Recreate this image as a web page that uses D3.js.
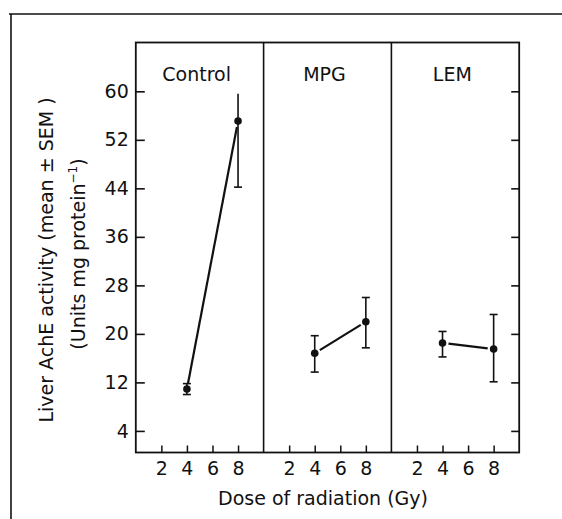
<!DOCTYPE html>
<html>
<head>
<meta charset="utf-8">
<script src="https://cdn.jsdelivr.net/npm/d3@7"></script>
<style>
  html, body { margin: 0; padding: 0; background: #fff; }
  svg text { font-family: "DejaVu Sans", sans-serif; fill: #111; }
</style>
</head>
<body>
<svg id="chart" width="562" height="519"></svg>
<script>
// ---- data ----
const panels = ["Control", "MPG", "LEM"];
const doses = [4, 8];
const xTicks = [2, 4, 6, 8];
const yTicks = [4, 12, 20, 28, 36, 44, 52, 60];

const controlMean = [10.9, 55.1];
const controlLow  = [10.0, 44.2];
const controlHigh = [11.8, 59.6];

const mpgMean = [16.8, 22.0];
const mpgLow  = [13.7, 17.7];
const mpgHigh = [19.7, 26.0];

const lemMean = [18.5, 17.5];
const lemLow  = [16.2, 12.1];
const lemHigh = [20.4, 23.2];

const seriesMean = [controlMean, mpgMean, lemMean];
const seriesLow  = [controlLow, mpgLow, lemLow];
const seriesHigh = [controlHigh, mpgHigh, lemHigh];

// ---- layout ----
const svg = d3.select("#chart");
const pLeft = 135.8, pRight = 519.2, pTop = 42.5, pBottom = 452.5;

const y = d3.scaleLinear().domain([0.44, 68.05]).range([pBottom, pTop]);
const panelScale = d3.scaleBand().domain(panels).range([pLeft, pRight]).padding(0);

// outer journal frame (top & left)
svg.append("line").attr("x1", 9).attr("x2", 562).attr("y1", 14).attr("y2", 14)
  .attr("stroke", "#111").attr("stroke-width", 1.6);
svg.append("line").attr("x1", 11).attr("x2", 11).attr("y1", 14).attr("y2", 519)
  .attr("stroke", "#111").attr("stroke-width", 1.6);

// plot box
svg.append("rect").attr("x", pLeft).attr("y", pTop)
  .attr("width", pRight - pLeft).attr("height", pBottom - pTop)
  .attr("fill", "none").attr("stroke", "#111").attr("stroke-width", 1.8);

// left axis (ticks inward)
const yAxisL = d3.axisLeft(y).tickValues(yTicks).tickSizeInner(-9).tickSizeOuter(0).tickPadding(7);
const gL = svg.append("g").attr("transform", `translate(${pLeft},0)`).call(yAxisL);
gL.select(".domain").remove();
gL.selectAll(".tick line").attr("stroke", "#111").attr("stroke-width", 1.6);
gL.selectAll(".tick text").attr("font-size", 19).attr("font-family", "DejaVu Sans").attr("fill", "#111");

// right axis (ticks inward, no labels)
const yAxisR = d3.axisRight(y).tickValues(yTicks).tickSizeInner(-8).tickSizeOuter(0).tickFormat("");
const gR = svg.append("g").attr("transform", `translate(${pRight},0)`).call(yAxisR);
gR.select(".domain").remove();
gR.selectAll(".tick line").attr("stroke", "#111").attr("stroke-width", 1.6);

const line = d3.line();

panels.forEach((name, i) => {
  const x0 = panelScale(name);
  const x = d3.scaleLinear().domain([0, 10]).range([x0, x0 + panelScale.bandwidth()]);

  // divider
  if (i > 0) {
    svg.append("line").attr("x1", x0).attr("x2", x0).attr("y1", pTop).attr("y2", pBottom)
      .attr("stroke", "#111").attr("stroke-width", 1.6);
  }

  // bottom axis, inward ticks
  const xAxis = d3.axisBottom(x).tickValues(xTicks).tickSizeInner(-7).tickSizeOuter(0).tickPadding(9);
  const gx = svg.append("g").attr("transform", `translate(0,${pBottom})`).call(xAxis);
  gx.select(".domain").remove();
  gx.selectAll(".tick line").attr("stroke", "#111").attr("stroke-width", 1.5);
  gx.selectAll(".tick text").attr("font-size", 19).attr("font-family", "DejaVu Sans").attr("fill", "#111");

  // panel label
  svg.append("text").attr("x", x(5) - 3).attr("y", 81).attr("text-anchor", "middle")
    .attr("font-size", 19).text(name);

  const mean = seriesMean[i], lo = seriesLow[i], hi = seriesHigh[i];
  const pts = doses.map((d, j) => [x(d), y(mean[j])]);

  // connecting line, trimmed near markers
  const [p0, p1] = pts;
  const dx = p1[0] - p0[0], dy = p1[1] - p0[1], len = Math.hypot(dx, dy);
  const gap = 6;
  const a = [p0[0] + dx / len * gap, p0[1] + dy / len * gap];
  const b = [p1[0] - dx / len * gap, p1[1] - dy / len * gap];
  svg.append("path").attr("d", line([a, b])).attr("fill", "none")
    .attr("stroke", "#111").attr("stroke-width", 2.2);

  // error bars
  doses.forEach((d, j) => {
    const cx = x(d);
    svg.append("line").attr("x1", cx).attr("x2", cx).attr("y1", y(lo[j])).attr("y2", y(hi[j]))
      .attr("stroke", "#111").attr("stroke-width", 1.6);
    svg.append("line").attr("x1", cx - 4).attr("x2", cx + 4).attr("y1", y(lo[j])).attr("y2", y(lo[j]))
      .attr("stroke", "#111").attr("stroke-width", 1.6);
    if (!(i === 0 && j === 1)) {
      svg.append("line").attr("x1", cx - 4).attr("x2", cx + 4).attr("y1", y(hi[j])).attr("y2", y(hi[j]))
        .attr("stroke", "#111").attr("stroke-width", 1.6);
    }
    svg.append("circle").attr("cx", cx).attr("cy", y(mean[j])).attr("r", 3.8).attr("fill", "#111");
  });
});

// x axis title
svg.append("text").attr("x", 323).attr("y", 505).attr("text-anchor", "middle")
  .attr("font-size", 19).text("Dose of radiation (Gy)");

// y axis title (two lines)
const yt = svg.append("text").attr("transform", "translate(53,260) rotate(-90)")
  .attr("text-anchor", "middle").attr("font-size", 19);
yt.text("Liver AchE activity (mean ± SEM )");

const yt2 = svg.append("text").attr("transform", "translate(85,254) rotate(-90)")
  .attr("text-anchor", "middle").attr("font-size", 19);
yt2.append("tspan").text("(Units mg protein");
yt2.append("tspan").attr("font-size", 12).attr("dy", -8).text("−1");
yt2.append("tspan").attr("dy", 8).text(")");
</script>
</body>
</html>
